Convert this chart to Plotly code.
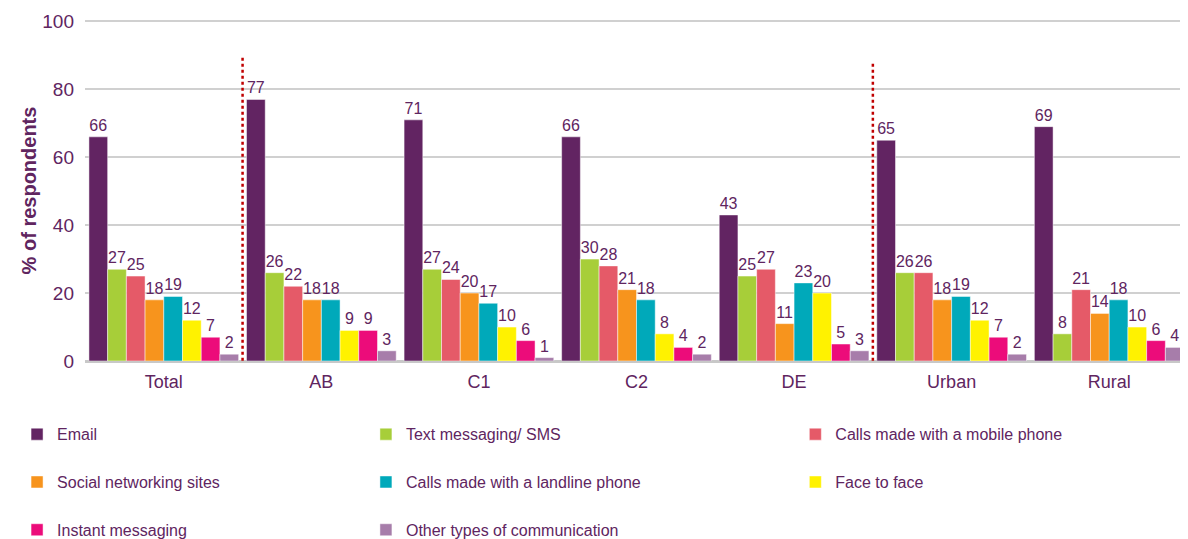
import plotly.graph_objects as go

categories = ["Total", "AB", "C1", "C2", "DE", "Urban", "Rural"]
series_names = [
    "Email", "Text messaging/ SMS", "Calls made with a mobile phone",
    "Social networking sites", "Calls made with a landline phone", "Face to face",
    "Instant messaging", "Other types of communication",
]
email = [66, 77, 71, 66, 43, 65, 69]
text_sms = [27, 26, 27, 30, 25, 26, 8]
calls_mobile = [25, 22, 24, 28, 27, 26, 21]
social = [18, 18, 20, 21, 11, 18, 14]
calls_landline = [19, 18, 17, 18, 23, 19, 18]
face = [12, 9, 10, 8, 20, 12, 10]
instant = [7, 9, 6, 4, 5, 7, 6]
other = [2, 3, 1, 2, 3, 2, 4]

values = [email, text_sms, calls_mobile, social, calls_landline, face, instant, other]
colors = ["#622462", "#A7CE39", "#E55A68", "#F7941D", "#00A9BA", "#FFF200", "#EC0C7A", "#A77DAA"]
legend_ids = ["legend", "legend2", "legend3", "legend", "legend2", "legend3", "legend", "legend2"]

TXT = "#60255F"
FONT = "Arial, Liberation Sans, sans-serif"

fig = go.Figure()
for name, vals, col, lg in zip(series_names, values, colors, legend_ids):
    fig.add_trace(go.Bar(
        x=categories, y=vals, name=name,
        marker=dict(color=col, line=dict(color="rgba(255,255,255,0.6)", width=0.8)),
        text=[str(v) for v in vals], textposition="outside",
        textfont=dict(color=TXT, size=16, family=FONT),
        cliponaxis=False, legend=lg, legendgroup=name,
    ))

# dotted separators
for xpos, ytop in [(0.5, 89.7), (4.5, 88.3)]:
    fig.add_shape(type="line", xref="x", yref="y", x0=xpos, x1=xpos, y0=-7, y1=ytop,
                  line=dict(color="#C00000", width=2.5, dash="dot"))

leg_common = dict(orientation="v", yanchor="top", y=-0.165, tracegroupgap=24,
                  font=dict(color=TXT, size=16, family=FONT), bgcolor="rgba(0,0,0,0)",
                  itemwidth=30, traceorder="grouped")
fig.update_layout(
    width=1180, height=531,
    margin=dict(l=77, r=0, t=12, b=178, autoexpand=False),
    plot_bgcolor="white", paper_bgcolor="white",
    barmode="group", bargap=0.05, bargroupgap=0,
    font=dict(family=FONT, color=TXT),
    showlegend=True,
    legend=dict(x=-0.0616, **leg_common),
    legend2=dict(x=0.2547, **leg_common),
    legend3=dict(x=0.644, **leg_common),
    xaxis=dict(tickfont=dict(size=18, color=TXT, family=FONT), showgrid=False,
               showline=False, ticks="", ticklabelstandoff=8),
    yaxis=dict(range=[0, 100.4], tickvals=[0, 20, 40, 60, 80, 100],
               tickfont=dict(size=19, color=TXT, family=FONT), ticklabelstandoff=10,
               showgrid=True, gridcolor="#D0D0D0", gridwidth=2,
               zeroline=True, zerolinecolor="#C8C8C8", zerolinewidth=3,
               title=dict(text="<b>% of respondents</b>", font=dict(size=20, color=TXT, family=FONT),
                          standoff=0),
               ticks="", showline=False),
)
fig.write_html("out.html")
